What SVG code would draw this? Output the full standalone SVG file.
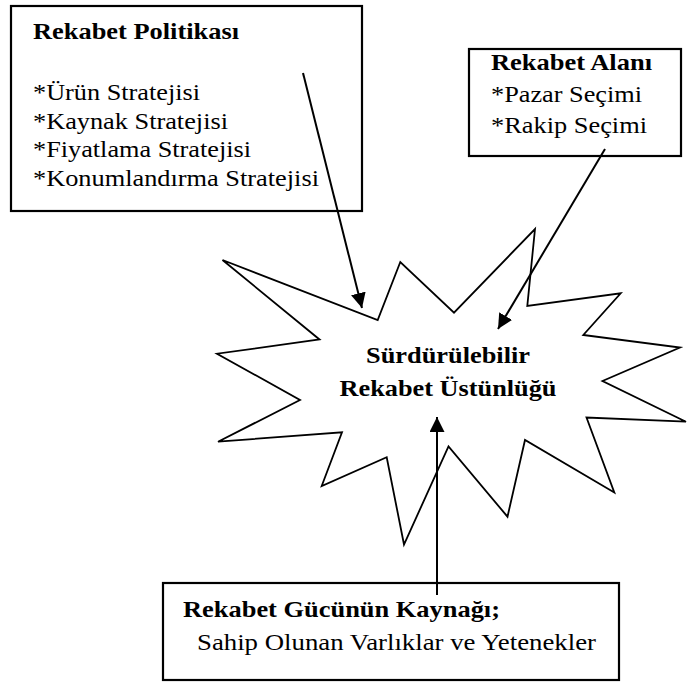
<svg xmlns="http://www.w3.org/2000/svg" width="687" height="682" viewBox="0 0 687 682">
<style>
.box{fill:#fff;stroke:#000;stroke-width:2.2}
.star{fill:#fff;stroke:#000;stroke-width:1.8}
.conn{stroke:#000;stroke-width:2;fill:none}
</style>
<defs>
<marker id="ah" markerUnits="userSpaceOnUse" markerWidth="15" markerHeight="15" refX="15" refY="7.5" orient="auto">
<path d="M0,0 L15,7.5 L0,15 z" fill="#000"/>
</marker>
</defs>
<rect width="687" height="682" fill="#fff"/>
<g id="star">
<polygon class="star" points="535,229 527.3,306 620.7,293.3 583.3,335 680,347.5 602.5,381 686,421.7 586.5,417.5 614.3,492.5 525,440 507.5,516.7 448.5,446.5 404,544.5 386.7,457.3 321.7,486 342,432.3 218,441.7 300,400 217,353.7 319.5,339.5 222.5,260 377.7,320 400.3,262 454,312.7"/>
<text font-family="Liberation Serif" font-size="24" font-weight="bold" x="448" y="363" text-anchor="middle" textLength="164" lengthAdjust="spacingAndGlyphs">Sürdürülebilir</text>
<text font-family="Liberation Serif" font-size="24" font-weight="bold" x="448" y="396" text-anchor="middle" textLength="217" lengthAdjust="spacingAndGlyphs">Rekabet Üstünlüğü</text>
</g>
<g id="box-politika">
<rect class="box" x="11" y="6" width="351" height="205"/>
<text font-family="Liberation Serif" font-size="24" font-weight="bold" x="33" y="39" textLength="206" lengthAdjust="spacingAndGlyphs">Rekabet Politikası</text>
<text font-family="Liberation Serif" font-size="24" x="33" y="100" textLength="167" lengthAdjust="spacingAndGlyphs">*Ürün Stratejisi</text>
<text font-family="Liberation Serif" font-size="24" x="33" y="128.5" textLength="195" lengthAdjust="spacingAndGlyphs">*Kaynak Stratejisi</text>
<text font-family="Liberation Serif" font-size="24" x="33" y="157" textLength="218" lengthAdjust="spacingAndGlyphs">*Fiyatlama Stratejisi</text>
<text font-family="Liberation Serif" font-size="24" x="33" y="185.5" textLength="286" lengthAdjust="spacingAndGlyphs">*Konumlandırma Stratejisi</text>
</g>
<g id="box-alan">
<rect class="box" x="469" y="49" width="212" height="107"/>
<text font-family="Liberation Serif" font-size="24" font-weight="bold" x="491" y="70" textLength="161" lengthAdjust="spacingAndGlyphs">Rekabet Alanı</text>
<text font-family="Liberation Serif" font-size="24" x="491" y="102" textLength="151" lengthAdjust="spacingAndGlyphs">*Pazar Seçimi</text>
<text font-family="Liberation Serif" font-size="24" x="491" y="133" textLength="156" lengthAdjust="spacingAndGlyphs">*Rakip Seçimi</text>
</g>
<g id="box-kaynak">
<rect class="box" x="163" y="583" width="456" height="97"/>
<text font-family="Liberation Serif" font-size="24" font-weight="bold" x="183" y="617" textLength="317" lengthAdjust="spacingAndGlyphs">Rekabet Gücünün Kaynağı;</text>
<text font-family="Liberation Serif" font-size="24" x="197" y="650" textLength="399" lengthAdjust="spacingAndGlyphs">Sahip Olunan Varlıklar ve Yetenekler</text>
</g>
<g id="connectors">
<line class="conn" x1="303" y1="73" x2="362" y2="308" marker-end="url(#ah)"/>
<line class="conn" x1="605" y1="149" x2="498" y2="329" marker-end="url(#ah)"/>
<line class="conn" x1="437" y1="595" x2="437" y2="417" marker-end="url(#ah)"/>
</g>
</svg>
